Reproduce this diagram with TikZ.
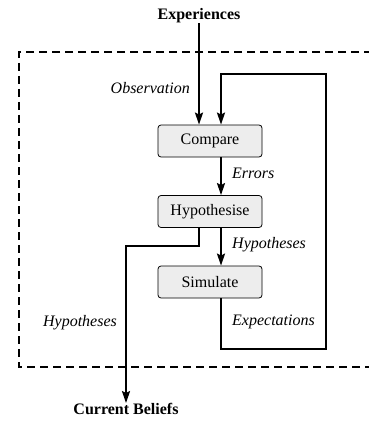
\documentclass[tikz,border=0pt]{standalone}
\usepackage{fontspec}
\setmainfont{Liberation Serif}
\usetikzlibrary{arrows.meta}
\usetikzlibrary{positioning}
\tikzset{
	stage/.style = {draw, line width = 0.8pt, fill = black!7, rounded corners = 3pt,
		minimum width = 104pt, minimum height = 32pt, inner sep = 0pt,
		font = \fontsize{16}{19}\selectfont},
	flow/.style = {line width = 2.2pt, -{Stealth[length = 12pt, width = 8pt, inset = 2pt]}},
	tag/.style = {font = \fontsize{16}{19}\selectfont\itshape, inner sep = 0pt},
	ends/.style = {font = \fontsize{16}{19}\selectfont\bfseries, inner sep = 0pt}
}

\begin{document}
\begin{tikzpicture}[x = 1pt, y = -1pt]

					\useasboundingbox (0,0) rectangle (368,425);

					\draw[line width = 1.8pt, dash pattern = on 8pt off 5pt] (372,52) -| (19,367) -- (372,367);

					\node[ends] (exp) at (199,16) {Experiences};
					\node[stage] (cmp) at (210,141) {Compare};
					\node[stage] (hyp) at (210,211.5) {Hypothesise};
					\node[stage] (sim) at (210,282) {Simulate};
					\node[ends] (bel) at (126,409) {Current Beliefs};

					\coordinate (fbtop) at (221,74);
					\coordinate (fbright) at (326,349);
					\coordinate (bend) at (126,246);

					\draw[flow] (exp.south) -- (exp.south |- cmp.north);
					\draw[flow] (sim.south -| fbtop) |- (fbright) |- (fbtop) -- (cmp.north -| fbtop);
					\draw[flow] (cmp.south -| fbtop) -- (hyp.north -| fbtop);
					\draw[flow] (hyp.south -| fbtop) -- (sim.north -| fbtop);
					\draw[flow] (hyp.south -| exp) |- (bend) -- (bel.north);

					\node[tag, anchor = east] (obs) at (190,88) {Observation};
					\node[tag, anchor = west] (err) at (232,173) {Errors};
					\node[tag, anchor = west] (hypr) at (232,245) {Hypotheses};
					\node[tag] (hypl) at (80,323) {Hypotheses};
					\node[tag, anchor = west] (expc) at (232,322) {Expectations};

				\end{tikzpicture}
\end{document}
